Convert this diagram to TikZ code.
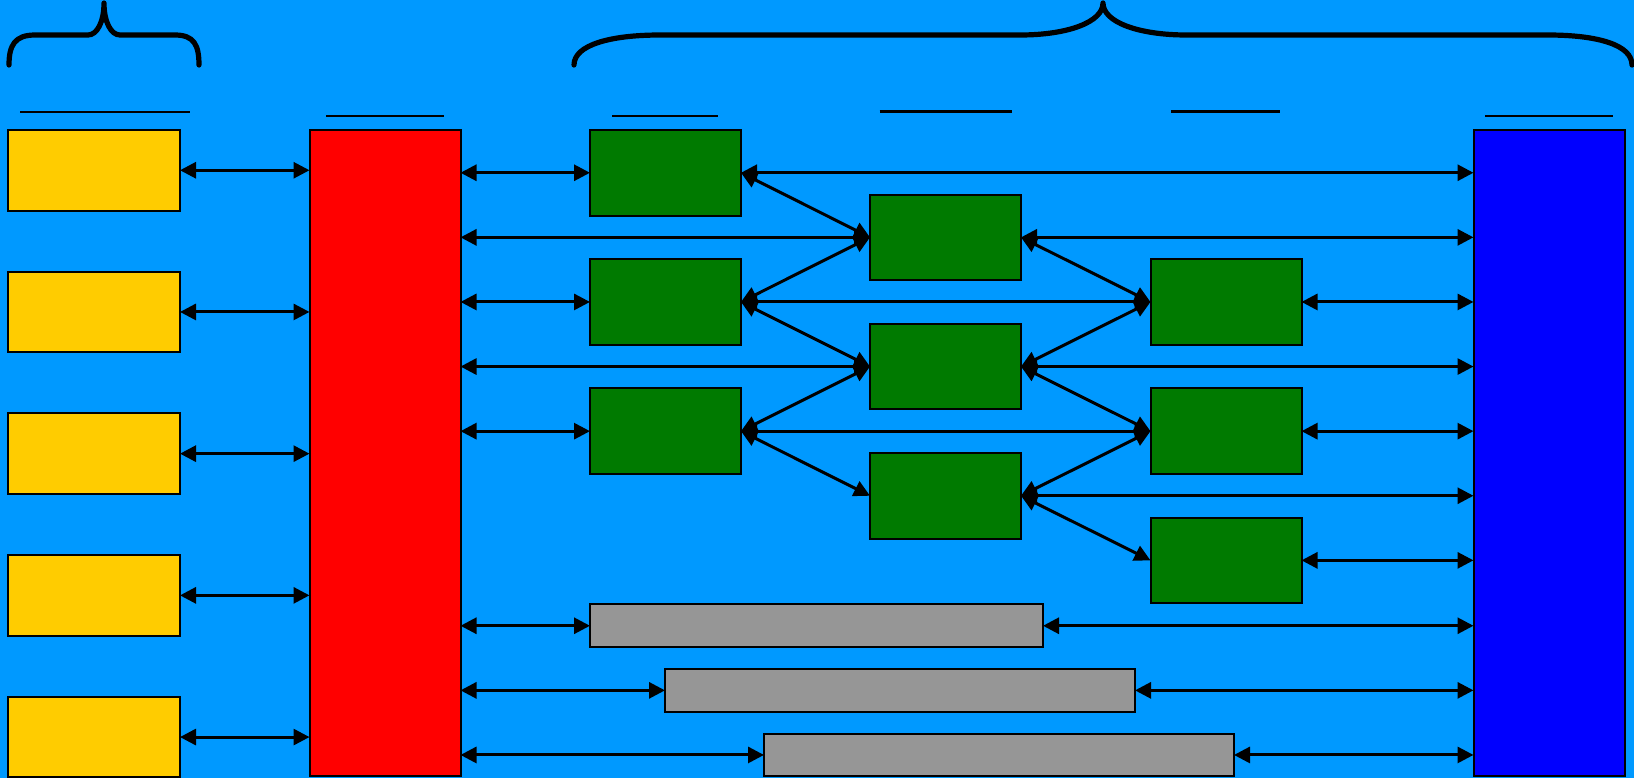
\documentclass[tikz,border=0pt]{standalone}
\usetikzlibrary{arrows.meta}
\definecolor{bg}{RGB}{0,153,255}
\definecolor{yel}{RGB}{255,204,0}
\definecolor{grn}{RGB}{0,122,0}
\definecolor{gry}{RGB}{150,150,150}
\begin{document}
\begin{tikzpicture}[x=0.5pt,y=-0.5pt,
  box/.style={draw=black,line width=1pt,inner sep=0pt,outer sep=0pt,anchor=north west},
  ybox/.style={box,fill=yel,minimum width=86pt,minimum height=40.25pt},
  tallbox/.style={box,minimum width=75.5pt,minimum height=323pt},
  gbox/.style={box,fill=grn,minimum width=75.5pt,minimum height=42.75pt},
  graybox/.style={box,fill=gry,minimum height=21.35pt},
  conn/.style={line width=1.5pt,{Triangle[length=8pt,width=8pt]}-{Triangle[length=8pt,width=8pt]}},
  uline/.style={line width=1.2pt},
  brace/.style={line width=2.6pt,line cap=round,line join=round}]
\useasboundingbox (0,0) rectangle (1634,778);
\fill[bg] (0,0) rectangle (1634,778);

% braces
\draw[brace] (9,65) .. controls (9,45) and (15,35) .. (35,35) -- (88,35)
  .. controls (97,35) and (104,22) .. (104,3)
  .. controls (104,22) and (111,35) .. (120,35) -- (175,35)
  .. controls (194,35) and (199,45) .. (199,65);
\draw[brace] (574,65) .. controls (574,45) and (610,35) .. (660,35) -- (1020,35)
  .. controls (1068,35) and (1103,22) .. (1103,3)
  .. controls (1103,22) and (1138,35) .. (1187,35) -- (1548,35)
  .. controls (1598,35) and (1632,45) .. (1632,65);

% underlines
\draw[uline] (20,112) -- (190,112);
\draw[uline] (326,115.7) -- (444,115.7);
\draw[uline] (612,115.7) -- (718,115.7);
\draw[uline] (879.5,111.5) -- (1012,111.5);
\draw[uline] (1171,111.5) -- (1280,111.5);
\draw[uline] (1485,115.7) -- (1613,115.7);

% boxes
\node[ybox] (y1) at (8,130) {};
\node[ybox] (y2) at (8,271.7) {};
\node[ybox] (y3) at (8,413.4) {};
\node[ybox] (y4) at (8,555.1) {};
\node[ybox] (y5) at (8,696.8) {};
\node[tallbox,fill=red] (red) at (309.5,130) {};
\node[tallbox,fill=blue] (blue) at (1473.5,130) {};
\node[gbox] (g1a) at (590,130) {};
\node[gbox] (g1b) at (590,259.2) {};
\node[gbox] (g1c) at (590,388.4) {};
\node[gbox] (g2a) at (870,194.6) {};
\node[gbox] (g2b) at (870,323.8) {};
\node[gbox] (g2c) at (870,453) {};
\node[gbox] (g3a) at (1150.5,259.2) {};
\node[gbox] (g3b) at (1150.5,388.4) {};
\node[gbox] (g3c) at (1150.5,517.6) {};
\node[graybox,minimum width=226.5pt] (gr1) at (590,604.4) {};
\node[graybox,minimum width=235pt] (gr2) at (665,669) {};
\node[graybox,minimum width=235pt] (gr3) at (764,733.6) {};

% yellow to red
\foreach \n in {y1,y2,y3,y4,y5}
  \draw[conn] (\n.east) -- (\n.east -| red.west);
% red to boxes
\foreach \n in {g1a,g1b,g1c,g2a,g2b,gr1,gr2,gr3}
  \draw[conn] (\n.west -| red.east) -- (\n.west);
% boxes to blue
\foreach \n in {g1a,g2a,g3a,g2b,g3b,g2c,g3c,gr1,gr2,gr3}
  \draw[conn] (\n.east) -- (\n.east -| blue.west);
% green to green
\draw[conn] (g1b.east) -- (g3a.west);
\draw[conn] (g1c.east) -- (g3b.west);
\draw[conn] (g1a.east) -- (g2a.west);
\draw[conn] (g2a.west) -- (g1b.east);
\draw[conn] (g1b.east) -- (g2b.west);
\draw[conn] (g2b.west) -- (g1c.east);
\draw[conn] (g1c.east) -- (g2c.west);
\draw[conn] (g2a.east) -- (g3a.west);
\draw[conn] (g3a.west) -- (g2b.east);
\draw[conn] (g2b.east) -- (g3b.west);
\draw[conn] (g3b.west) -- (g2c.east);
\draw[conn] (g2c.east) -- (g3c.west);
\end{tikzpicture}
\end{document}
